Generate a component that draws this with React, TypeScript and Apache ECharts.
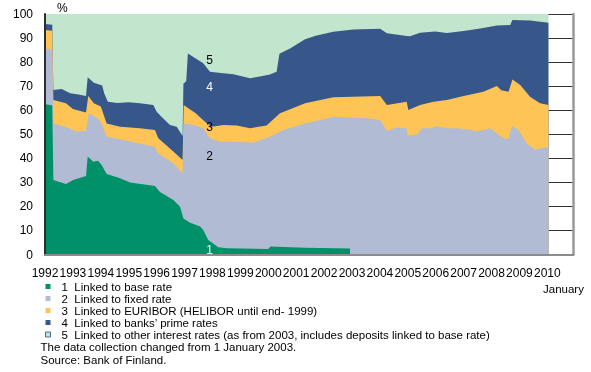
import { useEffect, useRef } from "react";
import * as echarts from "echarts";

// Cumulative upper boundaries of the stacked shares (%), as [year, value]
const baseRateTop: [number, number][] = [
  [1992.0, 62.6], [1992.26, 62.0], [1992.3, 31.0], [1992.75, 29.3], [1993.01, 31.0],
  [1993.47, 32.6], [1993.53, 40.7], [1993.73, 38.6], [1993.9, 39.0], [1994.03, 37.2],
  [1994.21, 33.5], [1994.69, 31.7], [1995.05, 29.9], [1995.94, 28.5], [1996.12, 26.0],
  [1996.6, 22.7], [1996.84, 19.9], [1996.96, 15.0], [1997.2, 13.2], [1997.56, 11.6],
  [1997.67, 10.2], [1997.85, 6.0], [1998.21, 3.0], [1998.5, 2.6], [2000.0, 2.3],
  [2000.08, 3.3], [2001.32, 2.8], [2002.93, 2.5],
];

const fixedRateTop: [number, number][] = [
  [1992.0, 85.7], [1992.26, 85.1], [1992.3, 54.5], [1992.77, 52.9], [1993.13, 51.1],
  [1993.47, 51.5], [1993.57, 58.7], [1993.85, 57.0], [1994.03, 54.5], [1994.21, 49.0],
  [1994.69, 47.9], [1995.4, 46.2], [1995.94, 44.8], [1996.06, 42.0], [1996.6, 37.9],
  [1996.93, 33.8], [1996.97, 54.5], [1997.4, 53.6], [1997.67, 52.5], [1997.91, 48.3],
  [1998.27, 46.9], [1998.87, 46.9], [1999.46, 46.5], [2000.06, 49.0], [2000.54, 51.8],
  [2001.32, 54.5], [2002.33, 57.3], [2003.53, 56.7], [2004.01, 55.9], [2004.25, 51.5],
  [2004.6, 52.8], [2004.95, 52.5], [2005.0, 49.5], [2005.35, 50.0], [2005.5, 52.5],
  [2005.85, 52.5], [2006.0, 53.3], [2006.4, 52.5], [2006.76, 52.5], [2007.2, 52.0],
  [2007.47, 51.1], [2007.95, 52.5], [2008.19, 50.4], [2008.49, 47.9], [2008.61, 48.3],
  [2008.73, 53.4], [2008.97, 51.8], [2009.26, 46.2], [2009.56, 43.7], [2010.04, 44.8],
];

const euriborTop: [number, number][] = [
  [1992.0, 93.3], [1992.26, 93.0], [1992.3, 64.2], [1992.75, 62.9], [1993.0, 60.5],
  [1993.47, 59.0], [1993.55, 65.9], [1993.75, 62.9], [1994.0, 61.5], [1994.21, 54.5],
  [1994.69, 53.1], [1995.4, 52.5], [1995.94, 51.8], [1996.06, 48.3], [1996.6, 42.8],
  [1996.93, 39.3], [1996.97, 62.2], [1997.4, 58.7], [1997.73, 55.2], [1997.97, 53.1],
  [1998.4, 53.8], [1998.87, 53.6], [1999.35, 52.5], [1999.94, 53.6], [2000.42, 58.7],
  [2001.32, 62.9], [2002.33, 65.4], [2004.01, 65.9], [2004.25, 62.2], [2004.96, 63.5],
  [2005.02, 60.1], [2005.44, 62.2], [2005.92, 63.5], [2006.4, 64.2], [2007.0, 65.9],
  [2007.71, 67.7], [2008.19, 70.1], [2008.35, 68.3], [2008.61, 67.7], [2008.75, 72.8],
  [2009.03, 70.5], [2009.38, 65.6], [2009.74, 62.9], [2010.04, 62.2],
];

const primeRateTop: [number, number][] = [
  [1992.0, 95.8], [1992.26, 95.5], [1992.3, 68.4], [1992.6, 68.8], [1992.9, 67.0],
  [1993.2, 66.5], [1993.47, 65.9], [1993.53, 73.7], [1993.75, 71.4], [1994.05, 70.3],
  [1994.12, 67.0], [1994.25, 63.5], [1994.6, 63.0], [1995.0, 63.3], [1995.4, 62.9],
  [1995.88, 62.2], [1996.0, 59.4], [1996.2, 57.0], [1996.48, 53.8], [1996.72, 53.1],
  [1996.93, 49.3], [1996.96, 71.0], [1997.06, 72.0], [1997.12, 83.6], [1997.4, 81.5],
  [1997.67, 79.5], [1997.91, 76.0], [1998.3, 75.5], [1998.75, 75.0], [1999.35, 73.3],
  [1999.7, 74.0], [2000.06, 74.8], [2000.3, 76.0], [2000.4, 83.5], [2000.78, 85.7],
  [2001.32, 89.5], [2001.7, 91.0], [2002.33, 92.6], [2003.05, 93.6], [2004.01, 93.9],
  [2004.25, 92.0], [2004.96, 90.9], [2005.08, 90.7], [2005.44, 92.2], [2005.98, 92.7],
  [2006.4, 92.1], [2007.0, 92.9], [2007.6, 94.0], [2008.19, 95.2], [2008.67, 95.4],
  [2008.75, 97.5], [2009.38, 97.3], [2010.04, 96.4],
];

const otherRatesTop: [number, number][] = [
  [1992.0, 100], [2010.04, 100],
];

const seriesNames = [
  "1\u00a0\u00a0Linked to base rate",
  "2\u00a0\u00a0Linked to fixed rate",
  "3\u00a0\u00a0Linked to EURIBOR (HELIBOR until end- 1999)",
  "4\u00a0\u00a0Linked to banks\u2019 prime rates",
  "5\u00a0\u00a0Linked to other interest rates (as from 2003, includes deposits linked to base rate)",
];

const areaLabels = ["1", "2", "3", "4", "5"];

const FONT = "'Liberation Sans', Arial, sans-serif";
const COLORS = ["#009168", "#b1bbd3", "#fec456", "#37568a", "#c1e5cd"];

export default function App() {
  const ref = useRef<HTMLDivElement>(null);

  useEffect(() => {
    if (!ref.current) return;
    const chart = echarts.init(ref.current, undefined, { renderer: "svg" });

    const mk = (idx: number, data: [number, number][]) => ({
      type: "line",
      name: seriesNames[idx],
      data,
      symbol: "none",
      showSymbol: false,
      silent: true,
      lineStyle: { width: 0, color: COLORS[idx] },
      itemStyle: { color: COLORS[idx] },
      areaStyle: { color: COLORS[idx], opacity: 1 },
      xAxisIndex: 0,
      yAxisIndex: 0,
    });

    const xMin = 1992;
    const xMax = 2010.92;

    const plotText = (txt: string, x: number, y: number, color: string) => ({
      type: "text",
      x,
      y,
      z: 10,
      style: {
        text: txt,
        fill: color,
        font: `12px ${FONT}`,
        textAlign: "center",
        textVerticalAlign: "middle",
      },
    });

    chart.setOption({
      animation: false,
      textStyle: { fontFamily: FONT },
      grid: { left: 45, right: 18, top: 14, bottom: 117.5, containLabel: false },
      xAxis: [
        {
          type: "value",
          min: xMin,
          max: xMax,
          interval: 1,
          z: 5,
          axisLine: { show: true, lineStyle: { color: "#4a4a4a", width: 2 } },
          axisTick: { show: false },
          splitLine: { show: false },
          axisLabel: {
            formatter: (v: number) => (Number.isInteger(v) ? String(v) : ""),
            fontSize: 12,
            color: "#000",
            margin: 12.5,
            fontFamily: FONT,
          },
        },
        {
          type: "value",
          min: xMin,
          max: xMax,
          position: "top",
          z: 5,
          axisLine: { show: true, lineStyle: { color: "#8c8c8c", width: 2 } },
          axisTick: { show: false },
          axisLabel: { show: false },
          splitLine: { show: false },
        },
      ],
      yAxis: [
        {
          type: "value",
          min: 0,
          max: 100,
          interval: 10,
          position: "left",
          axisLine: { show: false },
          axisTick: { show: false },
          axisLabel: { fontSize: 12, color: "#000", margin: 12, fontFamily: FONT },
          splitLine: { show: true, lineStyle: { color: "#333", width: 1 } },
        },
        {
          type: "value",
          min: 0,
          max: 100,
          position: "right",
          z: 5,
          axisLine: { show: true, lineStyle: { color: "#9a9a9a", width: 2.5 } },
          axisTick: { show: false },
          axisLabel: { show: false },
          splitLine: { show: false },
        },
        {
          type: "value",
          min: 0,
          max: 100,
          position: "left",
          z: 5,
          axisLine: { show: true, lineStyle: { color: "#2e2e2e", width: 2 } },
          axisTick: { show: false },
          axisLabel: { show: false },
          splitLine: { show: false },
        },
      ],
      legend: {
        orient: "vertical",
        left: 45,
        top: 280.5,
        padding: 0,
        icon: "rect",
        itemWidth: 5,
        itemHeight: 5,
        itemGap: 0,
        selectedMode: false,
        itemStyle: { borderWidth: 0 },
        textStyle: {
          fontSize: 11.5,
          lineHeight: 11.75,
          color: "#000",
          fontFamily: FONT,
          padding: [0, 0, 0, 6],
        },
        data: seriesNames.map((n, i) =>
          i === 4
            ? { name: n, itemStyle: { color: COLORS[4], borderColor: "#4f6e8f", borderWidth: 1 } }
            : { name: n }
        ),
      },
      series: [
        mk(4, otherRatesTop),
        mk(3, primeRateTop),
        mk(2, euriborTop),
        mk(1, fixedRateTop),
        mk(0, baseRateTop),
      ],
      graphic: [
        {
          type: "text",
          left: 57,
          top: 2,
          style: { text: "%", fill: "#000", font: `12px ${FONT}` },
        },
        {
          type: "text",
          left: 543,
          top: 283,
          style: { text: "January", fill: "#000", font: `11.5px ${FONT}` },
        },
        {
          type: "text",
          left: 40.5,
          top: 341,
          style: {
            text: "The data collection changed from 1 January 2003.",
            fill: "#000",
            font: `11.5px ${FONT}`,
          },
        },
        {
          type: "text",
          left: 40.5,
          top: 354,
          style: { text: "Source: Bank of Finland.", fill: "#000", font: `11.5px ${FONT}` },
        },
        plotText(areaLabels[4], 209.5, 59.5, "#000"),
        plotText(areaLabels[3], 209.5, 86.5, "#fff"),
        plotText(areaLabels[2], 209.5, 127, "#000"),
        plotText(areaLabels[1], 209.5, 155.5, "#000"),
        plotText(areaLabels[0], 209.5, 249.5, "#e8f5ee"),
      ],
    });

    return () => chart.dispose();
  }, []);

  return (
    <div
      ref={ref}
      style={{ position: "fixed", left: 0, top: 0, width: 591, height: 372 }}
    />
  );
}
